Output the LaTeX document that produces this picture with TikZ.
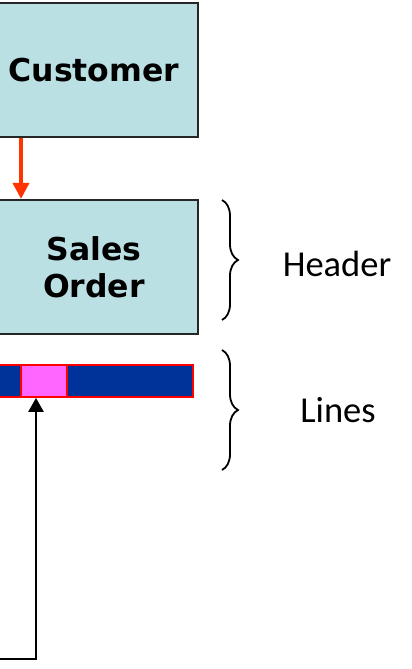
\documentclass[tikz,border=0pt]{standalone}
\usepackage{fontspec}
\newfontfamily\boxfont{DejaVu Sans}
\newfontfamily\labfont{Carlito}
\usetikzlibrary{decorations.pathreplacing,arrows.meta}
\definecolor{boxfill}{RGB}{187,224,227}
\definecolor{barblue}{RGB}{0,51,153}
\definecolor{pinkseg}{RGB}{255,102,255}
\definecolor{arrowred}{RGB}{255,51,0}
\begin{document}
\begin{tikzpicture}[x=1pt,y=-1pt,
  entity/.style={draw=black!85, line width=2.2pt, fill=boxfill, align=center, inner sep=0pt,
    font=\boxfont\bfseries\fontsize{31.5}{37}\selectfont, minimum width=208pt, minimum height=134pt},
  barseg/.style={draw=red, line width=1.8pt, fill=barblue, inner sep=0pt, minimum height=32pt},
  pinkbox/.style={draw=red, line width=1.8pt, fill=pinkseg, inner sep=0pt, minimum height=32pt, minimum width=46pt},
  redarrow/.style={draw=arrowred, line width=3.6pt, -{Triangle[length=16pt,width=16pt]}},
  blkarrow/.style={draw=black, line width=2.6pt, -{Triangle[length=14pt,width=15pt]}},
  bracestyle/.style={draw=black, line width=1.8pt, decorate, decoration={brace, amplitude=16pt}},
  lab/.style={font=\labfont\fontsize{36.5}{43}\selectfont, inner sep=0pt}
]
\useasboundingbox (0,0) rectangle (412,669);
\node[entity] (cust) at (94,70) {Customer};
\node[entity] (so) at (94,267) {Sales\\Order};
\coordinate (ra) at (21,0);
\draw[redarrow] (cust.south -| ra) -- (so.north -| ra);
\node[barseg, minimum width=203pt] (bar) at (91.5,381) {};
\node[pinkbox] (pink) at (44,381) {};
\coordinate (c0) at (-5,659);
\coordinate (c1) at (36,659);
\draw[blkarrow] (c0) -- (c1) -- (c1 |- pink.south);
\coordinate (hb1) at (222,200);
\coordinate (hb2) at (222,320);
\draw[bracestyle] (hb1) -- (hb2);
\coordinate (lb1) at (222,350);
\coordinate (lb2) at (222,470);
\draw[bracestyle] (lb1) -- (lb2);
\node[lab] (header) at (337,264) {Header};
\node[lab] (lines) at (338,410) {Lines};
\end{tikzpicture}
\end{document}
